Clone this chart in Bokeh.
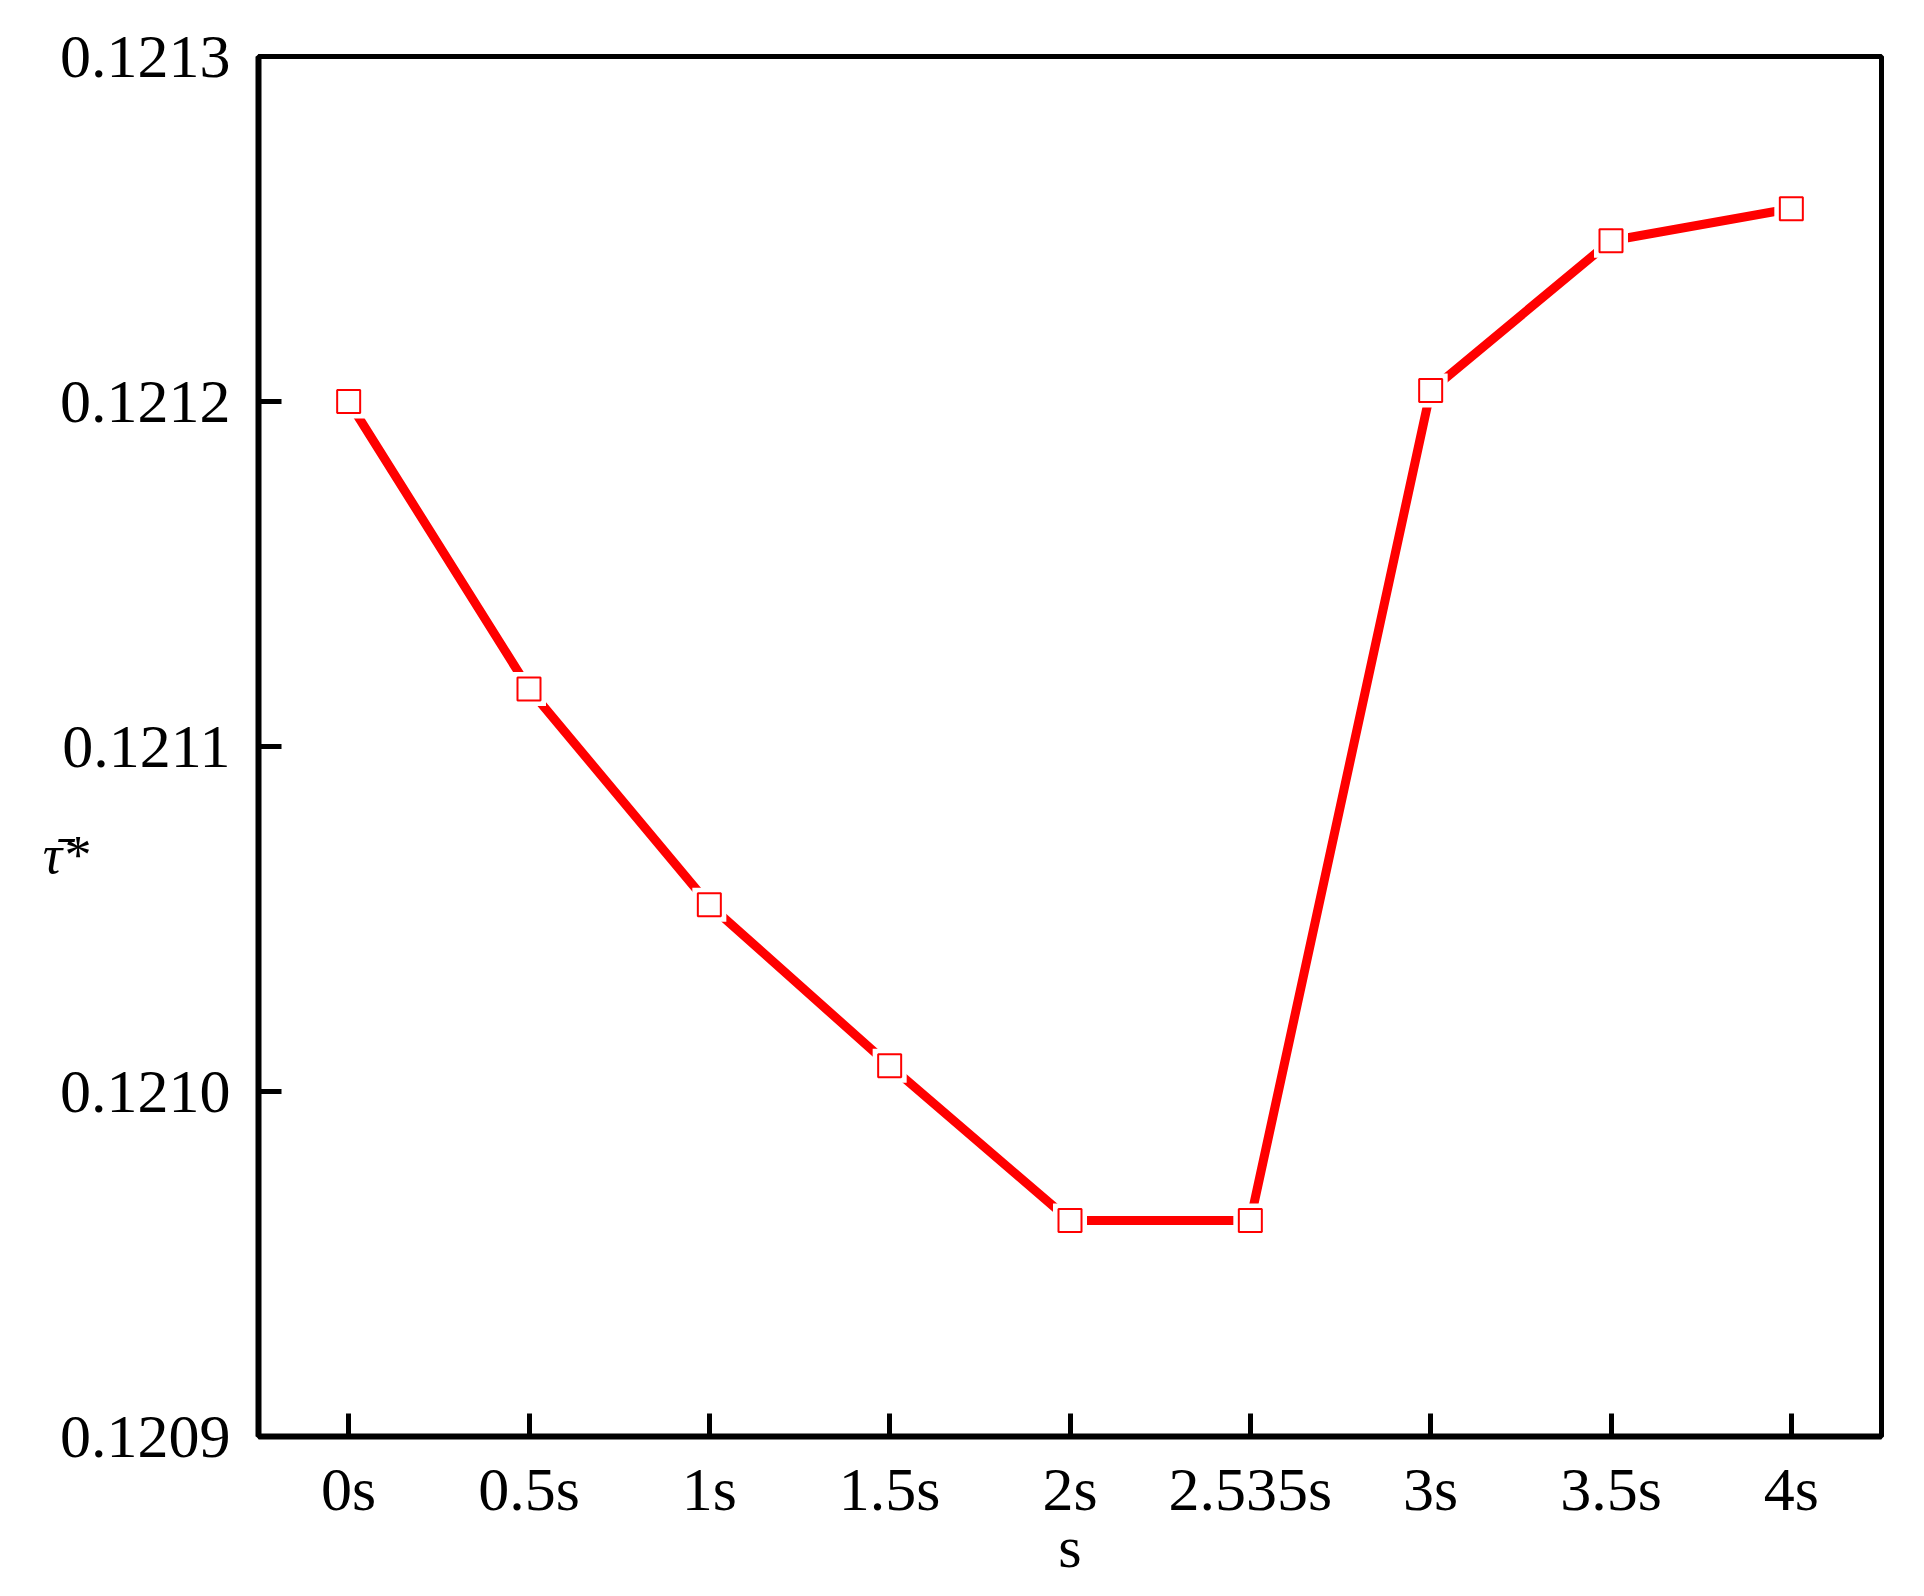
from bokeh.plotting import figure
from bokeh.models import FixedTicker, PrintfTickFormatter, Range1d, FactorRange
from bokeh.embed import file_html
from bokeh.resources import INLINE

x_labels = ["0s", "0.5s", "1s", "1.5s", "2s", "2.535s", "3s", "3.5s", "4s"]
tau_values = [0.12120, 0.1211167, 0.1210541, 0.1210075, 0.1209626,
              0.1209626, 0.1212032, 0.1212466, 0.1212559]
y_ticks = [0.1209, 0.1210, 0.1211, 0.1212, 0.1213]
y_title = "\n\n\n\u03c4\u0304*"
x_title = "s"

FONT = "Liberation Serif"

p = figure(width=1908, height=1588, output_backend="svg", toolbar_location=None,
           x_range=FactorRange(*x_labels, range_padding=0),
           y_range=Range1d(0.1209, 0.1213),
           min_border_left=258, min_border_right=27, min_border_top=56, min_border_bottom=152)

p.background_fill_color = "white"
p.border_fill_color = "white"
p.xgrid.visible = False
p.ygrid.visible = False
p.outline_line_color = "black"
p.outline_line_width = 5
p.outline_line_alpha = 1

p.line(x_labels, tau_values, line_color="#ff0000", line_width=9, line_cap="round")
p.scatter(x_labels, tau_values, marker="square", size=34, fill_color="white", line_color=None)
p.scatter(x_labels, tau_values, marker="square", size=23, fill_color="white",
          line_color="#ff0000", line_width=2)

for ax in (p.xaxis[0], p.yaxis[0]):
    ax.axis_line_width = 6
    ax.axis_line_color = "black"
    ax.major_tick_line_width = 5
    ax.major_tick_line_color = "black"
    ax.major_tick_in = 23
    ax.major_tick_out = 0
    ax.minor_tick_line_color = None
    ax.major_label_text_font = FONT
    ax.major_label_text_font_size = "62px"
    ax.major_label_text_color = "black"
    ax.axis_label_text_font = FONT
    ax.axis_label_text_font_size = "60px"
    ax.axis_label_text_color = "black"

p.yaxis[0].ticker = FixedTicker(ticks=y_ticks)
p.yaxis[0].formatter = PrintfTickFormatter(format="%.4f")
p.yaxis[0].major_label_standoff = 28
p.yaxis[0].axis_label = y_title
p.yaxis[0].axis_label_orientation = "horizontal"
p.yaxis[0].axis_label_text_font_style = "italic"
p.yaxis[0].axis_label_text_font_size = "54px"
p.yaxis[0].axis_label_standoff = -32

p.xaxis[0].major_label_standoff = 18
p.xaxis[0].axis_label = x_title
p.xaxis[0].axis_label_text_font_style = "normal"
p.xaxis[0].axis_label_standoff = -12

open("out.html", "w").write(file_html(p, INLINE))
